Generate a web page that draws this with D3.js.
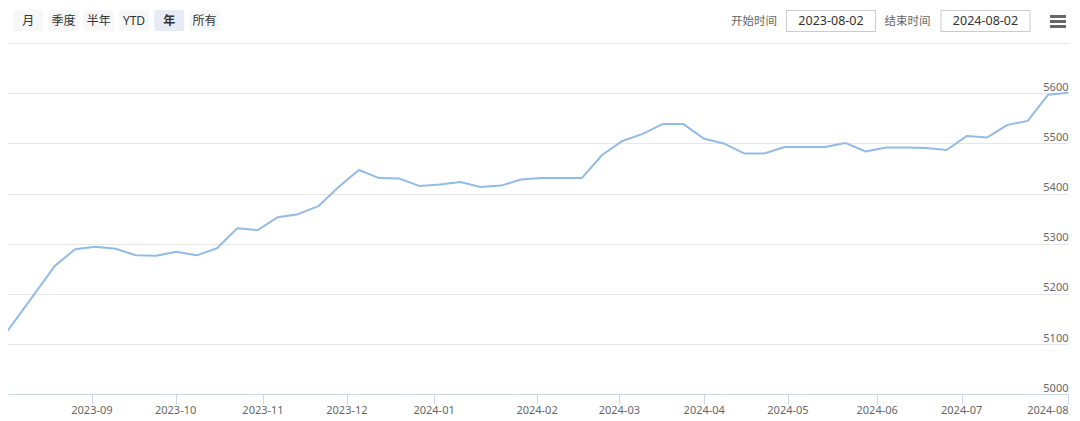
<!DOCTYPE html>
<html>
<head>
<meta charset="utf-8">
<script src="https://cdn.jsdelivr.net/npm/d3@7/dist/d3.min.js"></script>
<style>
  html, body { margin: 0; padding: 0; background: #fff; }
  svg { display: block; font-family: "Noto Sans", "Noto Sans CJK SC", sans-serif; }
</style>
</head>
<body>
<svg id="chart" width="1080" height="421"></svg>
<script>
// ---- data (weekly points; ordinal x positions) ----
const values = [
  5090, 5145, 5200, 5256, 5289, 5294, 5290, 5277, 5276, 5284,
  5277, 5291, 5331, 5327, 5353, 5359, 5375, 5413, 5447, 5431,
  5430, 5415, 5418, 5423, 5413, 5416, 5428, 5431, 5431, 5431,
  5477, 5505, 5519, 5539, 5539, 5510, 5500, 5480, 5480, 5493,
  5493, 5493, 5501, 5484, 5492, 5492, 5491, 5487, 5515, 5512,
  5537, 5545, 5597, 5601
];
const xTickLabels = ["2023-09","2023-10","2023-11","2023-12","2024-01","2024-02",
                     "2024-03","2024-04","2024-05","2024-06","2024-07","2024-08"];
const xTickPos = [4.83, 8.96, 13.27, 17.41, 21.71, 26.79, 30.85, 35.04, 39.17, 43.57, 47.74, 53];
const yTicks = [5000, 5100, 5200, 5300, 5400, 5500, 5600, 5700];
const rangeButtons = ["月", "季度", "半年", "YTD", "年", "所有"];
const selectedButton = "年";
const startDate = "2023-08-02";
const endDate = "2024-08-02";

// ---- layout ----
const plot = { left: 8, right: 1069, top: 43.1, bottom: 394.3 };
const svg = d3.select("#chart");

const x = d3.scaleLinear().domain([0, values.length - 1]).range([-5.97, 1068.3]);
const y = d3.scaleLinear().domain([5000, 5700]).range([plot.bottom, plot.top]);

// gridlines
svg.append("g").selectAll("line").data(yTicks).join("line")
  .attr("x1", plot.left).attr("x2", plot.right)
  .attr("y1", d => Math.round(y(d)) + 0.5).attr("y2", d => Math.round(y(d)) + 0.5)
  .attr("stroke", "#e6e6e6").attr("stroke-width", 1);

// y labels (right, above gridline), skip top one
svg.append("g").selectAll("text").data(yTicks.slice(0, -1)).join("text")
  .attr("x", 1068.5).attr("y", d => y(d) - 2.5)
  .attr("text-anchor", "end")
  .attr("font-size", 11).attr("fill", "#666")
  .text(d => d);

// x axis line
svg.append("line")
  .attr("x1", plot.left).attr("x2", plot.right)
  .attr("y1", 394.5).attr("y2", 394.5)
  .attr("stroke", "#ccd6eb").attr("stroke-width", 1);

// x ticks
const xt = svg.append("g");
xt.selectAll("line").data(xTickPos).join("line")
  .attr("x1", d => Math.round(x(d)) + 0.5).attr("x2", d => Math.round(x(d)) + 0.5)
  .attr("y1", 394.5).attr("y2", 404.5)
  .attr("stroke", "#ccd6eb").attr("stroke-width", 1);
xt.selectAll("text").data(xTickPos).join("text")
  .attr("x", (d, i) => i === xTickPos.length - 1 ? 1068.5 : x(d))
  .attr("y", 413.5)
  .attr("text-anchor", (d, i) => i === xTickPos.length - 1 ? "end" : "middle")
  .attr("font-size", 11).attr("fill", "#666")
  .text((d, i) => xTickLabels[i]);

// clip + line
svg.append("clipPath").attr("id", "clip").append("rect")
  .attr("x", plot.left).attr("y", 0)
  .attr("width", plot.right - plot.left).attr("height", plot.bottom + 2);

svg.append("path")
  .datum(values)
  .attr("clip-path", "url(#clip)")
  .attr("fill", "none")
  .attr("stroke", "#92bbe6")
  .attr("stroke-width", 2)
  .attr("stroke-linejoin", "round")
  .attr("d", d3.line().x((d, i) => x(i)).y(d => y(d)));

// range selector buttons
const btnG = svg.append("g");
const btnX = d3.scaleBand().domain(rangeButtons).range([13.3, 219.5]).paddingInner(0.15);
rangeButtons.forEach(b => {
  const g = btnG.append("g").attr("transform", `translate(${btnX(b)},10)`);
  g.append("rect").attr("width", btnX.bandwidth()).attr("height", 21).attr("rx", 2)
    .attr("fill", b === selectedButton ? "#e6ebf5" : "#f7f7f7");
  g.append("text").attr("x", btnX.bandwidth() / 2).attr("y", 15)
    .attr("text-anchor", "middle").attr("font-size", 12)
    .attr("font-weight", b === selectedButton ? "bold" : "normal")
    .attr("fill", "#333").text(b);
});

// date inputs
function dateInput(labelText, labelRight, boxX, val) {
  svg.append("text").attr("x", labelRight).attr("y", 24.5)
    .attr("text-anchor", "end").attr("font-size", 11.5).attr("fill", "#666")
    .text(labelText);
  svg.append("rect").attr("x", boxX + 0.5).attr("y", 10.5).attr("width", 89).attr("height", 21)
    .attr("fill", "#fff").attr("stroke", "#cccccc").attr("stroke-width", 1);
  svg.append("text").attr("x", boxX + 45).attr("y", 25)
    .attr("text-anchor", "middle").attr("font-size", 12.5).attr("fill", "#333")
    .text(val);
}
dateInput("开始时间", 777, 786, startDate);
dateInput("结束时间", 930.5, 940.5, endDate);

// hamburger menu
svg.append("g").selectAll("rect").data([0, 1, 2]).join("rect")
  .attr("x", 1050).attr("y", d => 15 + d * 5).attr("width", 16).attr("height", 3)
  .attr("fill", "#666");
</script>
</body>
</html>
